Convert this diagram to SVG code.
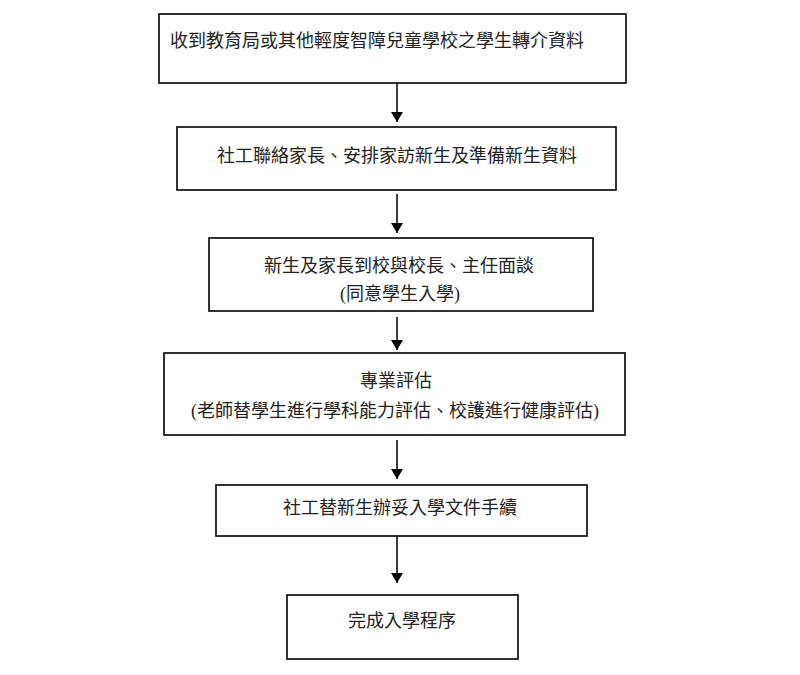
<svg xmlns="http://www.w3.org/2000/svg" width="800" height="675" viewBox="0 0 800 675">
<style>
.box{fill:#fff;stroke:#000;stroke-width:1.6}
.t{font-family:"Liberation Serif","Noto Sans CJK TC",serif;font-size:18px;fill:#222}
.c{text-anchor:middle}
.conn line{stroke:#000;stroke-width:1.5}
</style>
<defs>
<marker id="ah" markerWidth="10" markerHeight="12" refX="10" refY="5" orient="auto" markerUnits="userSpaceOnUse" viewBox="0 0 10 10" preserveAspectRatio="none">
<path d="M0,0 L10,5 L0,10 Z" fill="#000"/>
</marker>
</defs>
<rect width="800" height="675" fill="#fff"/>
<g id="n1"><rect class="box" x="159" y="14" width="467" height="69"/><text class="t" x="170" y="47">收到教育局或其他輕度智障兒童學校之學生轉介資料</text></g>
<g id="n2"><rect class="box" x="177" y="127" width="439" height="63"/><text class="t c" x="397" y="162">社工聯絡家長、安排家訪新生及準備新生資料</text></g>
<g id="n3"><rect class="box" x="209" y="238" width="384" height="73"/><text class="t c" x="399" y="272">新生及家長到校與校長、主任面談</text><text class="t c" x="400" y="300">(同意學生入學)</text></g>
<g id="n4"><rect class="box" x="164" y="353" width="461" height="82"/><text class="t c" x="396" y="387">專業評估</text><text class="t c" x="395" y="417">(老師替學生進行學科能力評估、校護進行健康評估)</text></g>
<g id="n5"><rect class="box" x="216" y="485" width="371" height="51"/><text class="t c" x="400" y="514">社工替新生辦妥入學文件手續</text></g>
<g id="n6"><rect class="box" x="287" y="595" width="231" height="64"/><text class="t c" x="402" y="627">完成入學程序</text></g>
<g class="conn">
<line x1="397" y1="83" x2="397" y2="122" marker-end="url(#ah)"/>
<line x1="397" y1="194" x2="397" y2="233" marker-end="url(#ah)"/>
<line x1="397" y1="317" x2="397" y2="350" marker-end="url(#ah)"/>
<line x1="397" y1="440" x2="397" y2="479" marker-end="url(#ah)"/>
<line x1="397" y1="536" x2="397" y2="583" marker-end="url(#ah)"/>
</g>
</svg>
